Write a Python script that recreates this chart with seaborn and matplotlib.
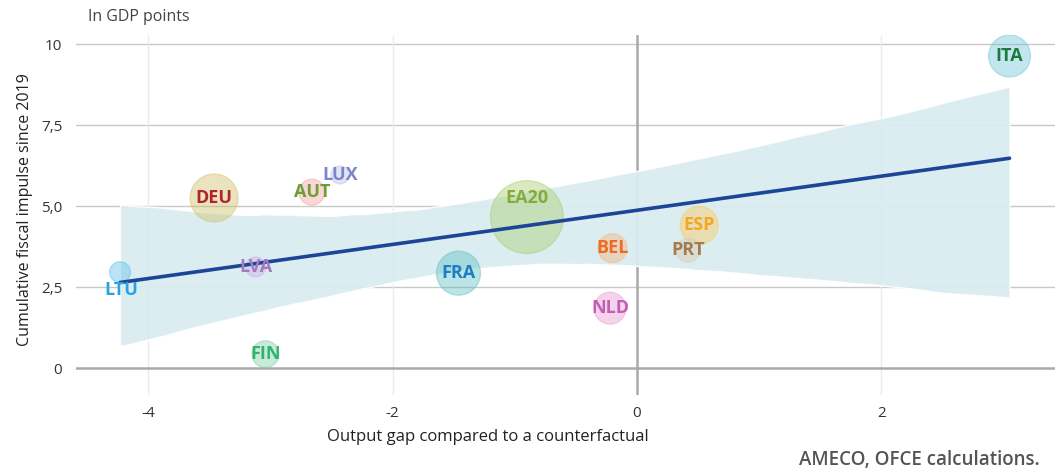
import numpy as np
import pandas as pd
import seaborn as sns
import matplotlib.pyplot as plt

# Data
countries = ['LTU', 'DEU', 'AUT', 'LUX', 'LVA', 'FIN', 'FRA', 'EA20', 'BEL', 'NLD', 'ESP', 'PRT', 'ITA']
output_gap = [-4.23, -3.46, -2.66, -2.43, -3.12, -3.04, -1.46, -0.90, -0.20, -0.22, 0.51, 0.42, 3.05]
fiscal_impulse = [2.96, 5.25, 5.43, 5.96, 3.12, 0.43, 2.93, 4.66, 3.70, 1.85, 4.41, 3.64, 9.63]
weight = [110, 576, 169, 81, 100, 182, 484, 1332, 210, 256, 361, 144, 441]

bubble_colors = ['#5bc0eb', '#cfc065', '#f2a0a0', '#b8bfe8', '#cfb0e0', '#7fcfa5', '#5bbfc4',
                 '#a8cc6a', '#f5b47a', '#e89ad0', '#fbc75a', '#d8cbb0', '#6cc5d6']
text_colors = ['#29a3df', '#b5232a', '#6c9e35', '#7a84c8', '#a27bbf', '#2fb36e', '#1e7ec2',
               '#86ab3c', '#ef6a25', '#c15fb4', '#f6a623', '#a37a4e', '#1b7a3e']
yticks = [0, 2.5, 5, 7.5, 10]
ytick_labels = ['0', '2,5', '5,0', '7,5', '10']
xticks = [-4, -2, 0, 2]
xtick_labels = ['-4', '-2', '0', '2']

df = pd.DataFrame({'country': countries, 'gap': output_gap,
                   'impulse': fiscal_impulse, 'weight': weight})

sns.set_style('white')
plt.rcParams['font.family'] = ['Open Sans', 'DejaVu Sans']

fig = plt.figure(figsize=(10.59, 4.72), dpi=100)
ax = fig.add_axes([0.0718, 0.163, 0.9242, 0.763])

# Regression line with confidence band
sns.regplot(data=df, x='gap', y='impulse', scatter=False, ci=95, n_boot=2000, seed=0,
            ax=ax, line_kws={'color': '#1c4597', 'lw': 2.6, 'zorder': 4})
band = ax.collections[-1]
band.set_facecolor('#d9ecf1')
band.set_alpha(0.95)
band.set_zorder(1)

# Bubbles
sns.scatterplot(data=df, x='gap', y='impulse', hue='country', size='weight',
                palette=dict(zip(countries, bubble_colors)),
                sizes=(0, 1332 * 2.07), size_norm=(0, 1332),
                alpha=0.42, linewidth=1, legend=False, ax=ax, zorder=3)
pts = ax.collections[-1]
ec = pts.get_facecolors().copy()
ec[:, 3] = 0.3
pts.set_edgecolors(ec)

# Country labels
offsets = {'LTU': (1, -13), 'EA20': (0, 14)}
for c, x, y, tc in zip(countries, output_gap, fiscal_impulse, text_colors):
    dx, dy = offsets.get(c, (0, 0))
    ax.annotate(c, (x, y), xytext=(dx, dy), textcoords='offset points',
                ha='center', va='center', fontsize=13, fontweight='bold',
                color=tc, zorder=6)

# Grid and axes
ax.set_xlim(-4.59, 3.42)
ax.set_ylim(-0.83, 10.28)
ax.set_yticks(yticks)
ax.set_yticklabels(ytick_labels)
ax.set_xticks(xticks)
ax.set_xticklabels(xtick_labels)
for yv in yticks[1:]:
    ax.axhline(yv, color='#c8c8c8', lw=1, zorder=0)
for xv in [-4, -2, 2]:
    ax.axvline(xv, color='#ebebeb', lw=1, zorder=0)
ax.axhline(0, color='#aaaaaa', lw=1.8, zorder=0.5)
ax.axvline(0, color='#aaaaaa', lw=1.8, zorder=0.5)
sns.despine(ax=ax, left=True, bottom=True)
ax.tick_params(length=0, labelsize=11, labelcolor='#333333')
ax.tick_params(axis='y', pad=10)
ax.tick_params(axis='x', pad=8)
ax.set_xlabel('')
ax.set_ylabel('')

fig.text(88 / 1059, 1 - 17 / 472, 'In GDP points', fontsize=11.5, color='#444444', va='center')
fig.text(25 / 1059, 1 - 210 / 472, 'Cumulative fiscal impulse since 2019', rotation=90,
         fontsize=11.5, color='#222222', ha='center', va='center')
fig.text(488 / 1059, 1 - 437 / 472, 'Output gap compared to a counterfactual',
         fontsize=12, color='#222222', ha='center', va='center')
fig.text(1040 / 1059, 1 - 460 / 472, 'AMECO, OFCE calculations.', fontsize=13.5,
         fontweight='semibold', color='#555555', ha='right', va='center')

fig.savefig('out.png', dpi=100)
